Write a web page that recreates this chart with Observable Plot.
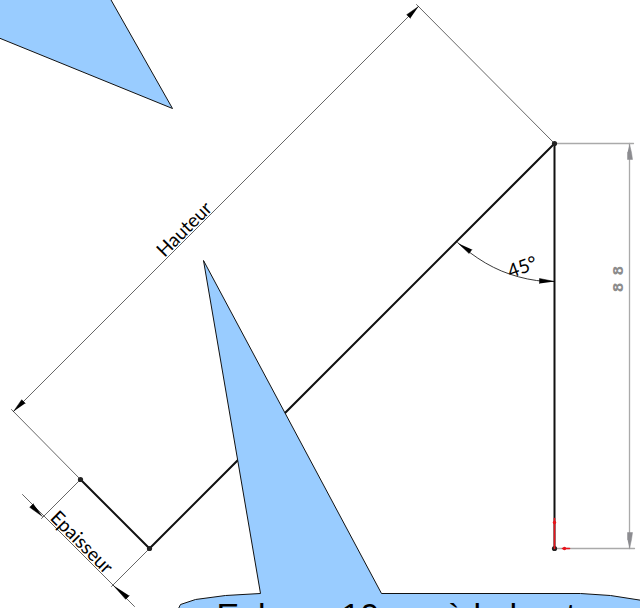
<!DOCTYPE html>
<html>
<head>
<meta charset="utf-8">
<script src="https://cdn.jsdelivr.net/npm/d3@7"></script>
<script src="https://cdn.jsdelivr.net/npm/@observablehq/plot@0.6"></script>
<style>
html,body{margin:0;padding:0;background:#fff}
svg{display:block;max-width:none}
g[fill="#8c8c8c"] text{letter-spacing:7px;font-weight:600}
</style>
</head>
<body>
<div id="chart"></div>
<script>
// Each shape is a list of [x, y] readings in picture units
const profile = [[80,479],[149,548],[554,143],[554,548]];
const hauteurExtA = [[554,143],[416,4]];
const hauteurExtB = [[80,479],[11,409]];
const hauteurDim = [[418,6],[13,411]];
const epaisseurDim = [[22,494],[134,606]];
const epaisseurExtA = [[80,479],[41,518]];
const epaisseurExtB = [[149,548],[111,586]];
const angleArc = [[457,242],[470,252.5],[485,262.5],[501,270.5],[518,276.3],[536,280],[554,281]];
const rightDim = [[629,143],[629,548]];
const rightExtA = [[554,143],[633,143]];
const rightExtB = [[554,548],[634,548]];
const redLines = [[[554,518],[554,548]],[[562,548],[569,548]]];
const blackHeads = [
  [[418,6],[406.2,14.2],[409.8,17.8]],
  [[13,411],[21.2,399.2],[24.8,402.8]],
  [[42,516],[29.2,506.8],[32.8,503.2]],
  [[113,585],[125.2,598.8],[128.8,595.2]],
  [[458,243],[468.6,253],[471.4,249]],
  [[554,281],[539,278],[539,283]]
];
const greyHeads = [
  [[629,144],[631,152],[632,159],[627,159],[627,152]],
  [[629,548],[631,539],[632,532],[627,532],[627,539]]
];
const joints = [[554,143],[149,548],[80,479],[554,548]];
const redDots = [[554,522],[564,548]];
const calloutTop = [[-5,-5],[108,-5],[172,108],[-5,36]];
const calloutMain = [[176,612],[180,604],[195,599],[225,595],[260,593],[203,260],[381,593],[580,593],[610,595],[642,600],[645,612]];
const labels = ["Hauteur","Epaisseur","45°"];
const labelX = [184,81,522];
const labelY = [229,542,267];
const labelAngle = [-45,45,-20];
const dimLabel = ["88"];

const rows = (shapes) => shapes.flatMap((s, i) => s.map(([x, y]) => ({x, y, i})));
const thin = {x: "x", y: "y", z: "i", stroke: "#555", strokeWidth: 0.9};
const thinLines = rows([hauteurExtA, hauteurExtB, hauteurDim, epaisseurDim, epaisseurExtA, epaisseurExtB]);
const labelRows = labels.map((t, i) => ({t, x: labelX[i], y: labelY[i], a: labelAngle[i]}));
const xy = ([x, y]) => ({x, y});

const chart = Plot.plot({
  width: 640,
  height: 608,
  margin: 0,
  x: {domain: [0, 640], axis: null},
  y: {domain: [608, 0], axis: null},
  marks: [
    Plot.line(thinLines, thin),
    Plot.line(angleArc.map(xy), {x: "x", y: "y", stroke: "#222", strokeWidth: 0.9, curve: "catmull-rom"}),
    Plot.line(rows([rightDim, rightExtA, rightExtB]), {x: "x", y: "y", z: "i", stroke: "#aaa", strokeWidth: 1.3}),
    Plot.line(rows(greyHeads), {x: "x", y: "y", z: "i", fill: "#8c8c90", stroke: "#8c8c90", strokeWidth: 0.5}),
    Plot.line(profile.map(xy), {x: "x", y: "y", stroke: "#111", strokeWidth: 2, strokeLinejoin: "miter"}),
    Plot.line(rows(blackHeads), {x: "x", y: "y", z: "i", fill: "#000", stroke: "#000", strokeWidth: 0.5}),
    Plot.dot(joints.map(xy), {x: "x", y: "y", r: 2.6, fill: "#222"}),
    Plot.line(rows(redLines), {x: "x", y: "y", z: "i", stroke: "#e8141c", strokeWidth: 1.6}),
    Plot.dot(redDots.map(xy), {x: "x", y: "y", r: 1.7, fill: "#e8141c"}),
    Plot.text(labelRows, {x: "x", y: "y", text: "t", rotate: "a", fill: "#000", fontSize: 19, fontFamily: "Lato"}),
    Plot.text(dimLabel, {x: () => 618, y: () => 275, text: (d) => d, rotate: -90, fill: "#8c8c8c", fontSize: 14, fontFamily: "DejaVu Sans"}),
    Plot.line(calloutTop.map(xy), {x: "x", y: "y", fill: "#99ccff", stroke: "#111", strokeWidth: 1}),
    Plot.line(calloutMain.map(xy), {x: "x", y: "y", fill: "#99ccff", stroke: "#111", strokeWidth: 1}),
    Plot.text(["Enlever 10mm à la hauteur"], {x: () => 216, y: () => 626, text: (d) => d, textAnchor: "start", lineAnchor: "bottom", fill: "#000", fontSize: 34, fontFamily: "Liberation Sans"})
  ]
});
document.getElementById("chart").append(chart);
</script>
</body>
</html>
